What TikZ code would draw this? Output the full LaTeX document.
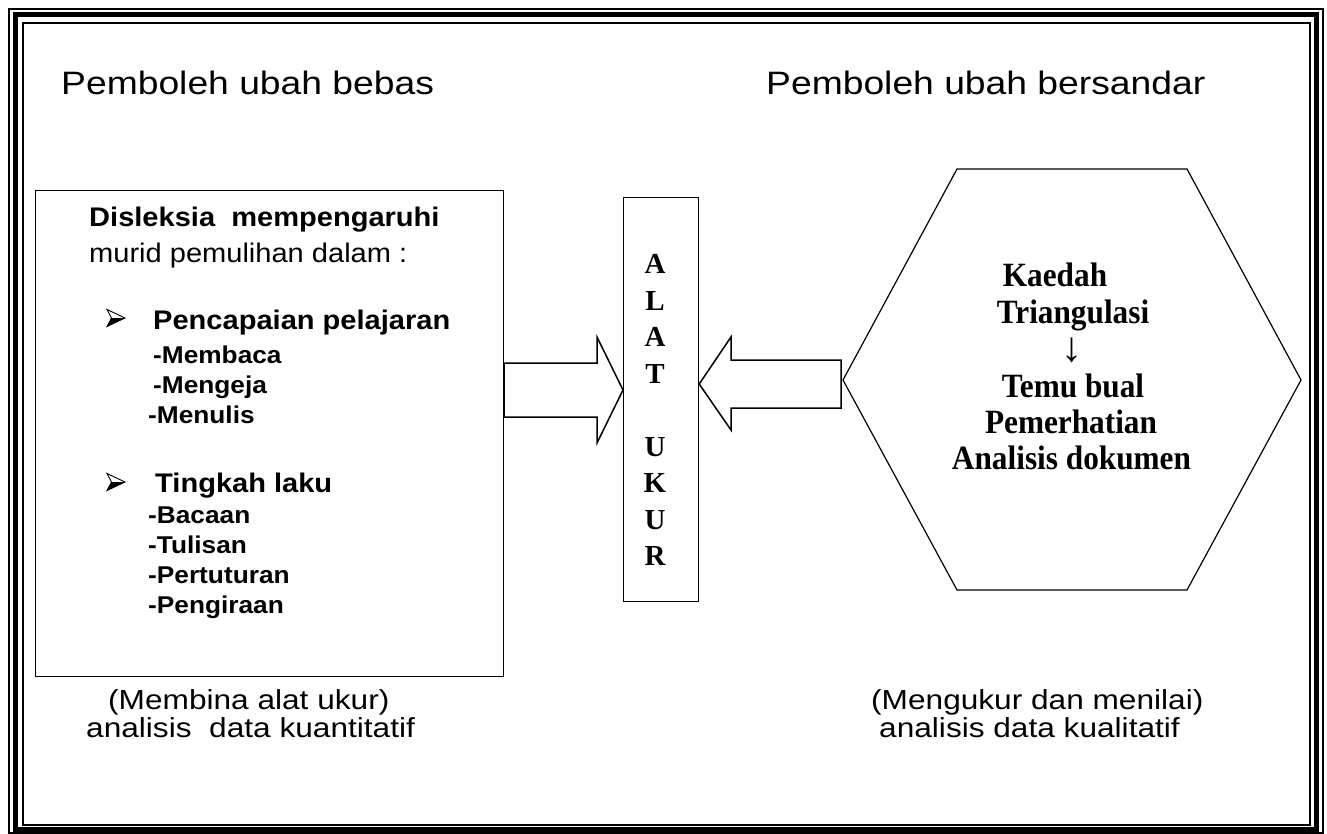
\documentclass[tikz,border=0pt]{standalone}
\usepackage{fontspec}
\setmainfont{Liberation Sans}
\newfontfamily\sansX{Liberation Sans}[FakeStretch=1.15]
\newfontfamily\sansY{Liberation Sans}[FakeStretch=1.08]
\newfontfamily\serifX{Liberation Serif}[FakeStretch=0.92]
\newfontfamily\serifN{Liberation Serif}
\usetikzlibrary{calc}
\begin{document}
\begin{tikzpicture}[x=1pt,y=-1pt,
  box/.style={draw, line width=1.2pt, inner sep=0pt},
  blockarrow/.style={draw, line width=1.5pt, fill=white, line join=miter},
  ttl/.style={anchor=base west, inner sep=0pt, font=\sansX\fontsize{32.4}{38}\selectfont},
  hd/.style={anchor=base west, inner sep=0pt, font=\sansY\bfseries\fontsize{26.9}{30}\selectfont},
  plain/.style={anchor=base west, inner sep=0pt, font=\sansY\fontsize{26.9}{30}\selectfont},
  itm/.style={anchor=base west, inner sep=0pt, font=\sansY\bfseries\fontsize{24.3}{27}\selectfont},
  btm/.style={anchor=base west, inner sep=0pt, font=\sansX\fontsize{27.5}{31}\selectfont},
  letter/.style={anchor=base, inner sep=0pt, font=\serifN\bfseries\fontsize{29}{29}\selectfont},
  hext/.style={anchor=base, inner sep=0pt, font=\serifX\bfseries\fontsize{34}{36}\selectfont}]
\useasboundingbox (0,0) rectangle (1327,834);
% frame
\draw[line width=2pt] (9,9) rectangle (1323,833.3);
\draw[line width=5pt] (15,15) rectangle (1316.3,829.7);
\draw[line width=2pt] (23,23) rectangle (1309.7,825.3);
% titles
\node[ttl] (t1) at (61,94.7) {Pemboleh ubah bebas};
\node[ttl] (t2) at (766,95) {Pemboleh ubah bersandar};
% left box
\node[box, anchor=north west, minimum width=468pt, minimum height=486pt] (lbox) at (35,190) {};
\node[hd] (dis) at (89,227) {Disleksia\ \ mempengaruhi};
\node[plain] (murid) at (89,262) {murid pemulihan dalam :};
\node[hd] (pen) at (153,329) {Pencapaian pelajaran};
\node[itm] (i1) at (153,363) {-Membaca};
\node[itm] (i2) at (153,393) {-Mengeja};
\node[itm] (i3) at (148,423) {-Menulis};
\node[hd] (ting) at (155,492) {Tingkah laku};
\node[itm] (j1) at (148,523) {-Bacaan};
\node[itm] (j2) at (148,553) {-Tulisan};
\node[itm] (j3) at (148,583) {-Pertuturan};
\node[itm] (j4) at (148,613) {-Pengiraan};
% bullets
\foreach \by in {318,482}{
  \fill (107,\by+8.5) -- (125,\by) -- (111.5,\by) -- cycle;
  \draw[line width=0.9pt, line join=miter] (107,\by-8.5) -- (125,\by) -- (107,\by+8.5) -- (111.5,\by) -- cycle;
  \draw[line width=0.9pt] (111.5,\by) -- (125,\by);
}
% ALAT UKUR box
\node[box, anchor=north west, minimum width=75pt, minimum height=404pt] (alat) at (623,197) {};
\foreach \ch/\yy in {A/273.5,L/310,A/346.5,T/383,U/456,K/492.5,U/529,R/565.5}{
  \node[letter] at (655,\yy) {\ch};
}
% hexagon
\coordinate (h1) at (957,169);
\coordinate (h2) at (1187,169);
\coordinate (h3) at (1301,380);
\coordinate (h4) at (1187,590);
\coordinate (h5) at (957,590);
\coordinate (h6) at (843,380);
\draw[line width=1.2pt, line join=miter] (h1) -- (h2) -- (h3) -- (h4) -- (h5) -- (h6) -- cycle;
\node[inner sep=0pt, minimum width=1pt] (hex) at (1072,380) {};
\node[hext] (k1) at (1055,287) {Kaedah};
\node[hext] (k2) at (1073,323) {Triangulasi};
\node[anchor=base, inner sep=0pt, font=\serifN\fontsize{42}{42}\selectfont] (k3) at (1072,361) {↓};
\node[hext] (k4) at (1073,397) {Temu bual};
\node[hext] (k5) at (1071,433) {Pemerhatian};
\node[hext] (k6) at (1071.5,469) {Analisis dokumen};
% block arrows
\coordinate (ya) at (0,363);
\coordinate (yb) at (0,390);
\coordinate (yc) at (0,417);
\draw[blockarrow] (lbox.east |- ya) -- (597,363) -- (597,337) -- (alat.west |- yb) -- (597,443) -- (597,417) -- (lbox.east |- yc) -- cycle;
\coordinate (yd) at (0,360);
\coordinate (ye) at (0,384);
\coordinate (yf) at (0,408);
\draw[blockarrow] ($(h6 |- yd)+(-2,0)$) -- (731,360) -- (731,337) -- (alat.east |- ye) -- (731,430) -- (731,408) -- ($(h6 |- yf)+(-2,0)$) -- cycle;
% bottom captions
\node[btm] (c1) at (108,709) {(Membina alat ukur)};
\node[btm] (c2) at (86,737) {analisis\ \ data kuantitatif};
\node[btm] (c3) at (871,709) {(Mengukur dan menilai)};
\node[btm] (c4) at (879,737) {analisis data kualitatif};
\end{tikzpicture}
\end{document}
